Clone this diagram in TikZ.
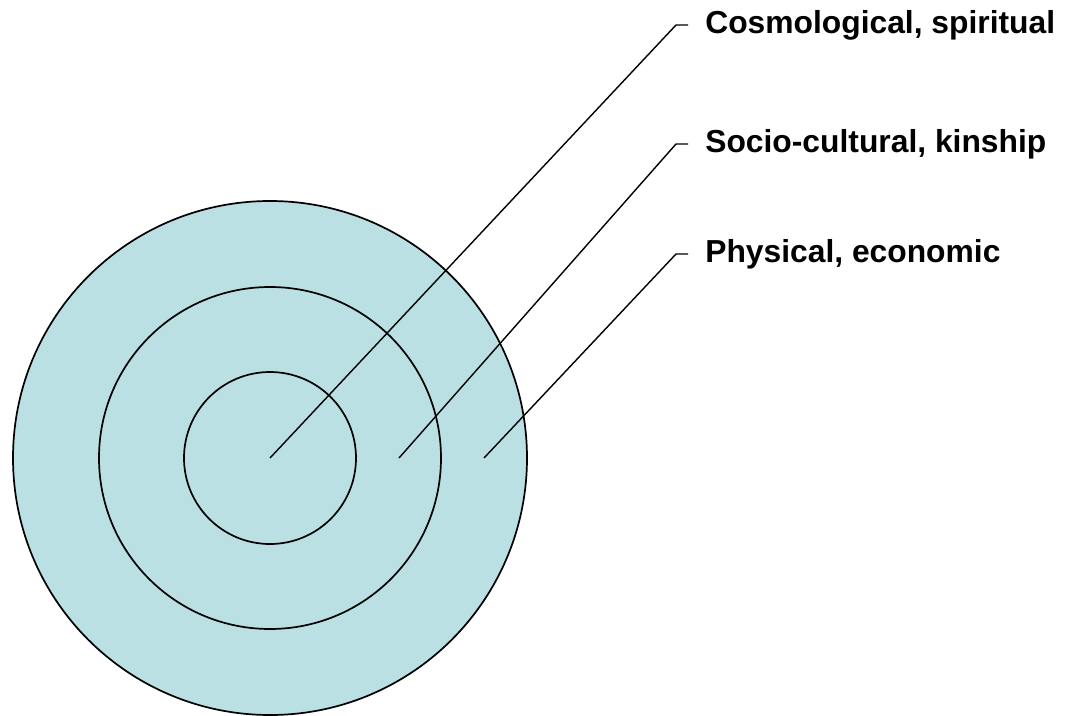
\documentclass[tikz,border=0pt]{standalone}
\usepackage{fontspec}
\setmainfont{Liberation Sans}
\usepackage{tikz}
\usetikzlibrary{shapes}

\definecolor{ringblue}{RGB}{186,224,227}

\begin{document}
\begin{tikzpicture}[x=1pt, y=-1pt, semithick]
			\useasboundingbox (0,0) rectangle (1065,715);
			\tikzstyle{ring}=[circle, draw, line width=1.7pt, fill=ringblue, inner sep=0pt, outer sep=0pt]
			\tikzstyle{layer}=[anchor=west, inner xsep=17pt, font=\bfseries\fontsize{31.8}{36}\selectfont]
			\tikzstyle{leader}=[line width=1.4pt]
			% rings, drawn from the outside in
			\node[ring, minimum size=514pt] (OUTER) at (270,458) {};
			\node[ring, minimum size=342pt] (MIDDLE) at (270,458) {};
			\node[ring, minimum size=172pt] (INNER) at (270,458) {};
			% where the leaders start and bend
			\coordinate (MIDPT) at (399,458);
			\coordinate (OUTPT) at (484,458);
			\coordinate (KNEE1) at (676,25);
			\coordinate (KNEE2) at (676,144);
			\coordinate (KNEE3) at (676,254);
			% labels
			\node[layer] (COSMO) at (688,25) {Cosmological, spiritual};
			\node[layer] (SOCIO) at (688,144) {Socio-cultural, kinship};
			\node[layer] (PHYS) at (688,254) {Physical, economic};
			% leaders
			\draw[leader] (INNER.center) -- (KNEE1) -- (COSMO.west);
			\draw[leader] (MIDPT) -- (KNEE2) -- (SOCIO.west);
			\draw[leader] (OUTPT) -- (KNEE3) -- (PHYS.west);
		\end{tikzpicture}
\end{document}
